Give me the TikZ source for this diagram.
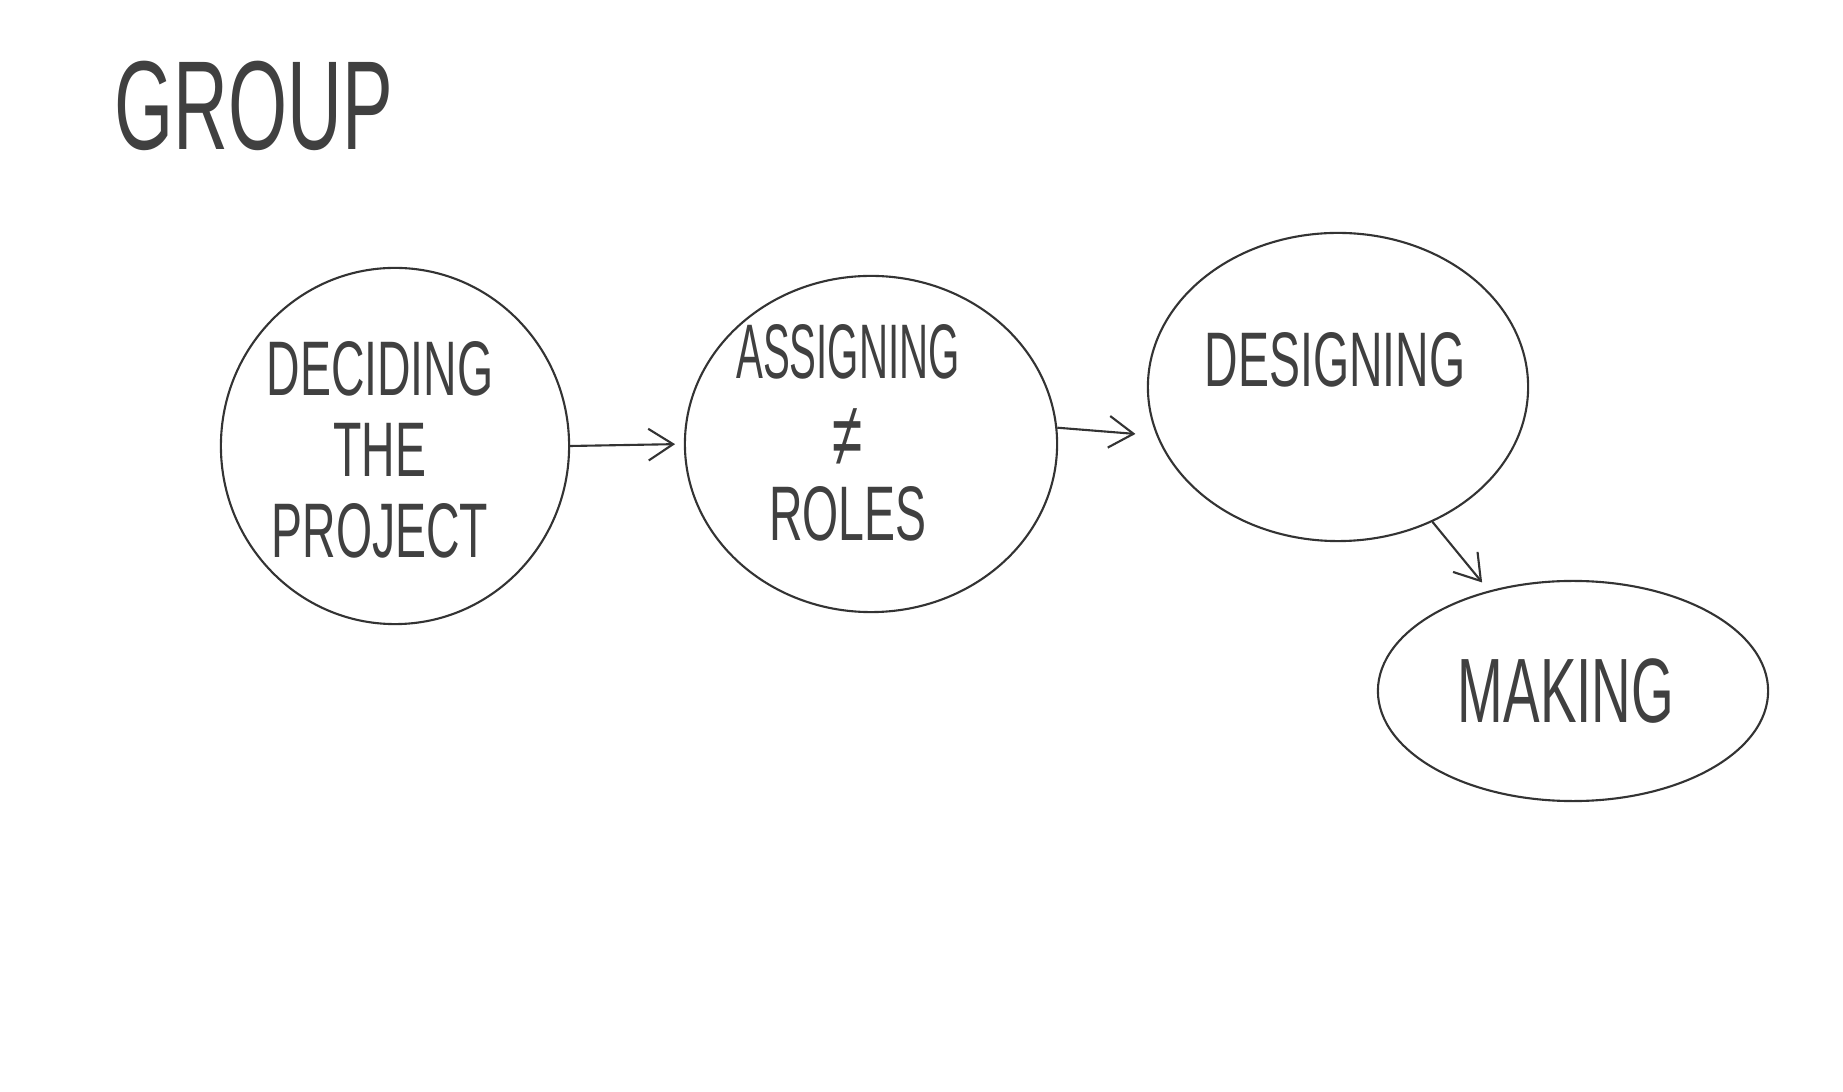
\documentclass[tikz,border=0pt]{standalone}
\usepackage{fontspec}
\setmainfont{Liberation Sans}
\usetikzlibrary{shapes.geometric,arrows.meta}
\newcommand{\narrow}[1]{\scalebox{0.6}[1]{#1}}
\tikzset{
  bubble/.style={ellipse, draw=black!80, line width=0.6pt, inner sep=0pt},
  word/.style={font=\fontsize{22}{23}\selectfont, align=center, text=black!75, inner sep=0pt},
  flow/.style={draw=black!80, line width=0.6pt, -{Straight Barb[length=7pt,width=9pt]}}
}
\begin{document}
\begin{tikzpicture}[x=0.01cm, y=-0.01cm]
\useasboundingbox (0,0) rectangle (1843,1092);
% Title
\node[word, font=\fontsize{36}{38}\selectfont] (title) at (254,106) {\narrow{GROUP}};

% Bubbles
\node[bubble, minimum width=3.48cm, minimum height=3.56cm] (decide) at (395,446) {};
\node[bubble, minimum width=3.72cm, minimum height=3.36cm] (assign) at (871,444) {};
\node[bubble, minimum width=3.80cm, minimum height=3.08cm] (design) at (1338,387) {};
\node[bubble, minimum width=3.90cm, minimum height=2.20cm] (making) at (1573,691) {};

% Texts
\node[word] (decidetext) at (380,450) {\narrow{DECIDING}\\\narrow{THE}\\\narrow{PROJECT}};
\node[word, font=\fontsize{22}{21}\selectfont] (assigntext) at (848,433)
  {\scalebox{0.52}[1]{ASSIGNING}\\[4pt]{\fontsize{26}{21}\selectfont\narrow{≠}}\\\narrow{ROLES}};
\node[word] (designtext) at (1335,360) {\narrow{DESIGNING}};
\node[word, font=\fontsize{26}{28}\selectfont] (makingtext) at (1566,691) {\narrow{MAKING}};

% Arrows
\draw[flow, shorten >=2.5pt] (decide.east) -- (assign.west);
\draw[flow, shorten >=6pt] (assign.5) -- (design.195);
\draw[flow, shorten >=3pt] (design.305) -- (making.130);
\end{tikzpicture}
\end{document}
